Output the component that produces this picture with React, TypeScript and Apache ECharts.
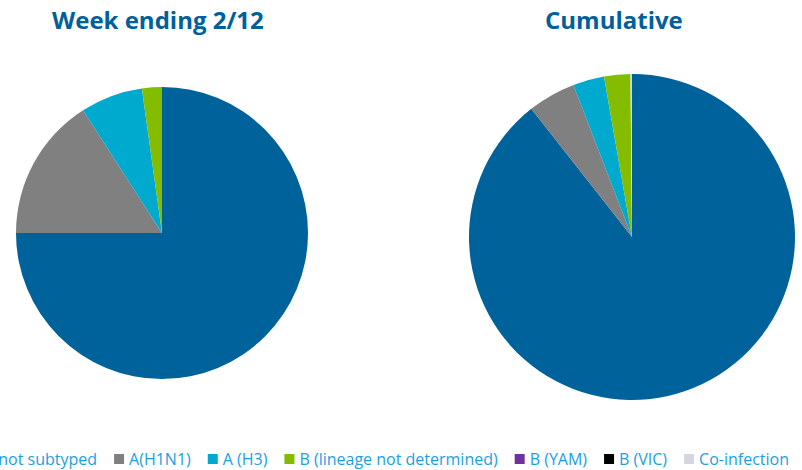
import React, { useEffect, useRef } from "react";
import * as echarts from "echarts";

const categories = [
  "A not subtyped",
  "A(H1N1)",
  "A (H3)",
  "B (lineage not determined)",
  "B (YAM)",
  "B (VIC)",
  "Co-infection",
];
const colors = ["#00629b", "#808080", "#00a9ce", "#84bd00", "#7030a0", "#000000", "#d3d8e0"];
const weekValues = [75.0, 15.9, 6.9, 2.2, 0, 0, 0];
const cumulativeValues = [89.4, 4.75, 3.1, 2.6, 0, 0, 0.15];
const titles = ["Week ending 2/12", "Cumulative"];

export default function App() {
  const ref = useRef<HTMLDivElement>(null);
  useEffect(() => {
    if (!ref.current) return;
    const chart = echarts.init(ref.current, null, { renderer: "svg" });
    const mk = (vals: number[]) =>
      categories.map((c, i) => ({ name: c, value: vals[i], itemStyle: { color: colors[i] } }));
    const titleStyle = { color: "#00609a", fontFamily: "Open Sans", fontWeight: "bold", fontSize: 24 };
    chart.setOption({
      animation: false,
      title: [
        { text: titles[0], left: 47, top: 2, textStyle: titleStyle },
        { text: titles[1], left: 540, top: 2, textStyle: titleStyle },
      ],
      legend: {
        data: categories,
        left: -36,
        top: 446,
        icon: "rect",
        itemWidth: 10,
        itemHeight: 10,
        itemGap: 17,
        textStyle: { color: "#1a9fe4", fontFamily: "Open Sans", fontSize: 16 },
      },
      series: [
        {
          type: "pie",
          center: [162, 233],
          radius: [0, 146],
          startAngle: 90,
          clockwise: true,
          label: { show: false },
          labelLine: { show: false },
          silent: true,
          itemStyle: { borderWidth: 0 },
          data: mk(weekValues),
        },
        {
          type: "pie",
          center: [632, 237],
          radius: [0, 163],
          startAngle: 90,
          clockwise: true,
          label: { show: false },
          labelLine: { show: false },
          silent: true,
          itemStyle: { borderWidth: 0 },
          data: mk(cumulativeValues),
        },
      ],
    });
    return () => chart.dispose();
  }, []);
  return <div ref={ref} style={{ width: 802, height: 470, position: "absolute", left: 0, top: 0 }} />;
}
